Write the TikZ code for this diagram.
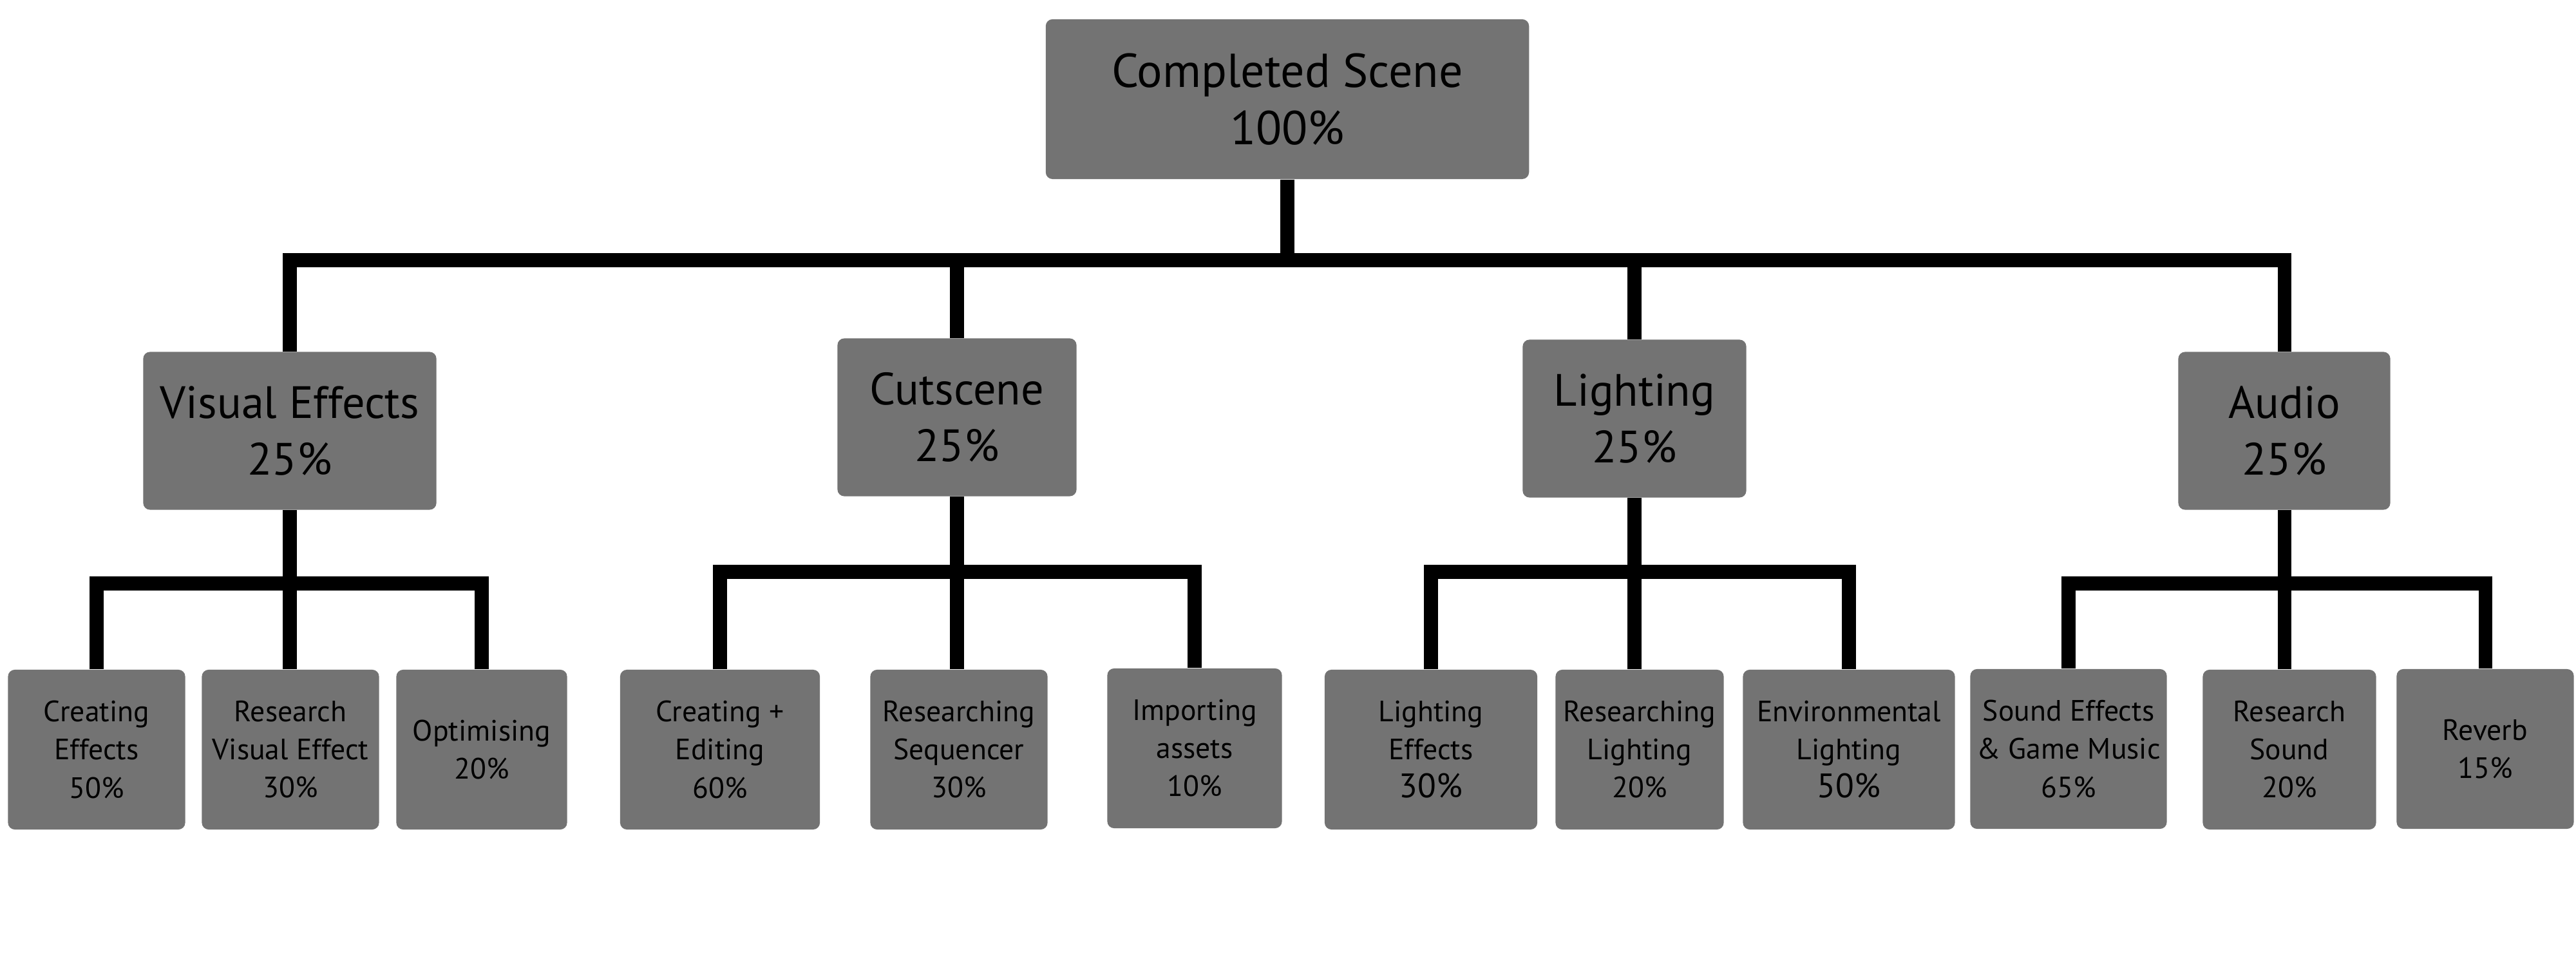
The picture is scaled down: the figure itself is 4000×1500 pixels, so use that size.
\documentclass[tikz,border=0pt]{standalone}
\usepackage{fontspec}
\setmainfont{PT Sans}
\usetikzlibrary{positioning}
\definecolor{boxgray}{RGB}{115,115,115}
\tikzset{
  % General box
  bnode/.style={fill=boxgray, shape=rectangle, rounded corners=3pt,
    inner sep=0pt, align=center, text=black},
  % Root node
  rnode/.style={bnode, minimum width=7.5cm, minimum height=2.48cm,
    font=\fontsize{21}{25.4}\selectfont},
  % Category node
  cnode/.style={bnode, minimum height=2.45cm,
    font=\fontsize{20}{25}\selectfont},
  % Task node
  tnode/.style={bnode, minimum height=2.48cm,
    font=\fontsize{13}{16.8}\selectfont},
  % Tree links
  link/.style={line width=6pt, black},
}
% slightly larger percentage
\newcommand{\bigpc}[1]{{\fontsize{15}{18}\selectfont #1}}

\begin{document}
\begin{tikzpicture}[x=0.01cm, y=0.01cm]
  \useasboundingbox (0,0) rectangle (4000,1500);

  % levels of the tree
  \node[rnode] (root) at (1999,1346) {Completed Scene\\100\%};

  \node[cnode, minimum width=4.55cm] (ve)  at (450,831)  {Visual Effects\\25\%};
  \node[cnode, minimum width=3.71cm] (cut) at (1486,852) {Cutscene\\25\%};
  \node[cnode, minimum width=3.47cm] (lit) at (2538,850) {Lighting\\25\%};
  \node[cnode, minimum width=3.29cm] (aud) at (3547,831) {Audio\\25\%};

  \node[tnode, minimum width=2.75cm] (cfx) at (150,336)  {Creating\\Effects\\50\%};
  \node[tnode, minimum width=2.75cm] (rve) at (451,336)  {Research\\Visual Effect\\30\%};
  \node[tnode, minimum width=2.65cm] (opt) at (748,336)  {Optimising\\20\%};

  \node[tnode, minimum width=3.10cm] (ced) at (1118,336) {Creating +\\Editing\\60\%};
  \node[tnode, minimum width=2.75cm] (rsq) at (1489,336) {Researching\\Sequencer\\30\%};
  \node[tnode, minimum width=2.71cm] (imp) at (1855,338) {Importing\\assets\\10\%};

  \node[tnode, minimum width=3.30cm] (lfx) at (2222,336) {Lighting\\Effects\\\bigpc{30\%}};
  \node[tnode, minimum width=2.61cm] (rlt) at (2546,336) {Researching\\Lighting\\20\%};
  \node[tnode, minimum width=3.29cm] (env) at (2871,336) {Environmental\\Lighting\\\bigpc{50\%}};

  \node[tnode, minimum width=3.05cm] (sfx) at (3212,337) {Sound Effects\\\& Game Music\\65\%};
  \node[tnode, minimum width=2.69cm] (rsd) at (3555,336) {Research\\Sound\\20\%};
  \node[tnode, minimum width=2.75cm] (rev) at (3859,337) {Reverb\\15\%};

  % bars
  \coordinate (bar0) at (0,1096);
  \coordinate (bar1) at (0,594);
  \coordinate (bar2) at (0,612);

  % links
  \foreach \c in {ve, cut, lit, aud}
    \draw[link] (root.south) |- (\c.north |- bar0) -- (\c.north);

  \foreach \p/\a/\b/\y in {ve/cfx/opt/bar1, cut/ced/imp/bar2,
      lit/lfx/env/bar2, aud/sfx/rev/bar1} {
    \draw[link] (\p.south) |- (\a.north |- \y) -- (\a.north);
    \draw[link] (\p.south) |- (\b.north |- \y) -- (\b.north);
  }
  \draw[link] (ve.south) -- (ve.south |- rve.north);
  \draw[link] (cut.south) -- (cut.south |- rsq.north);
  \draw[link] (lit.south) -- (lit.south |- rlt.north);
  \draw[link] (aud.south) -- (aud.south |- rsd.north);
\end{tikzpicture}
\end{document}
